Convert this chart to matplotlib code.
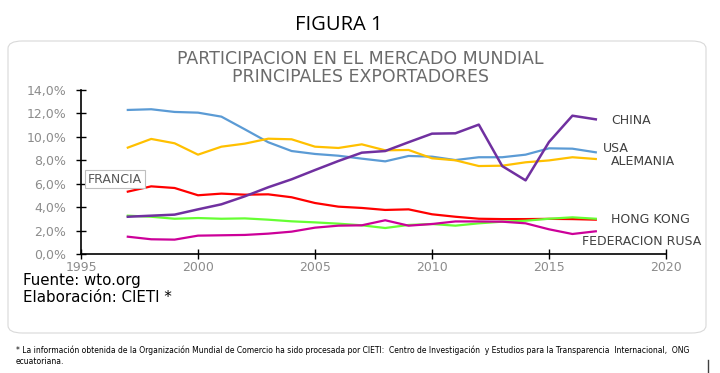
import matplotlib.pyplot as plt
from matplotlib.lines import Line2D
from matplotlib.patches import FancyBboxPatch
from matplotlib.ticker import FuncFormatter

years = list(range(1997, 2018))

china = [3.2, 3.29, 3.38, 3.83, 4.26, 4.94, 5.71, 6.39, 7.18, 7.95, 8.66, 8.8,
         9.55, 10.28, 10.31, 11.05, 7.52, 6.3, 9.57, 11.81, 11.5]
usa = [12.3, 12.36, 12.13, 12.07, 11.73, 10.65, 9.55, 8.8, 8.55, 8.4, 8.15, 7.92,
       8.38, 8.32, 8.03, 8.27, 8.27, 8.49, 9.03, 9.0, 8.69]
alemania = [9.09, 9.83, 9.46, 8.49, 9.17, 9.43, 9.85, 9.8, 9.17, 9.06, 9.37, 8.86,
            8.89, 8.18, 8.01, 7.52, 7.55, 7.84, 8.0, 8.27, 8.12]
francia = [5.34, 5.79, 5.65, 5.03, 5.17, 5.08, 5.11, 4.86, 4.37, 4.06, 3.95, 3.78,
           3.83, 3.41, 3.2, 3.03, 3.0, 3.0, 3.02, 3.0, 2.95]
hong_kong = [3.29, 3.2, 3.03, 3.09, 3.03, 3.06, 2.95, 2.81, 2.72, 2.61, 2.47, 2.24,
             2.5, 2.58, 2.44, 2.64, 2.78, 2.86, 3.03, 3.15, 3.03]
rusia = [1.5, 1.28, 1.25, 1.59, 1.62, 1.65, 1.76, 1.93, 2.27, 2.44, 2.47, 2.9,
         2.44, 2.58, 2.8, 2.8, 2.78, 2.64, 2.13, 1.73, 1.96]

fig = plt.figure(figsize=(7.2, 3.73), dpi=100)
fig.patch.set_facecolor('white')

# rounded frame around the chart (drawn behind the axes)
frame = FancyBboxPatch((8 / 720, 1 - 333 / 373), 698 / 720, 292 / 373,
                       boxstyle='round,pad=0,rounding_size=0.02',
                       transform=fig.transFigure, facecolor='white',
                       edgecolor='#d9d9d9', linewidth=0.8, zorder=-5)
fig.patches.append(frame)

fig.text(339 / 720, 1 - 24.5 / 373, 'FIGURA 1', ha='center', va='center',
         fontsize=14.5, family='Open Sans', color='black')
fig.text(0.5, 1 - 59 / 373, 'PARTICIPACION EN EL MERCADO MUNDIAL',
         ha='center', va='center', fontsize=12.5, family='DejaVu Sans', color='#6b6b6b')
fig.text(0.5, 1 - 76.5 / 373, 'PRINCIPALES EXPORTADORES',
         ha='center', va='center', fontsize=12.5, family='DejaVu Sans', color='#6b6b6b')

ax = fig.add_axes([81 / 720, 1 - 254.3 / 373, 585 / 720, 164.3 / 373])
ax.patch.set_alpha(0)
ax.plot(years, usa, color='#5B9BD5', lw=1.6)
ax.plot(years, alemania, color='#FFC000', lw=1.6)
ax.plot(years, francia, color='#FF0000', lw=1.6)
ax.plot(years, hong_kong, color='#66FF33', lw=1.6)
ax.plot(years, rusia, color='#CC0099', lw=1.6)
ax.plot(years, china, color='#7030A0', lw=1.8)

ax.set_xlim(1995, 2020)
ax.set_ylim(0, 14)
ax.set_xticks(range(1995, 2021, 5))
ax.set_yticks(range(0, 15, 2))
ax.yaxis.set_major_formatter(FuncFormatter(lambda v, p: f'{v:.1f}%'.replace('.', ',')))
for s in ['top', 'right']:
    ax.spines[s].set_visible(False)
for s in ['left', 'bottom']:
    ax.spines[s].set_color('black')
    ax.spines[s].set_linewidth(1.2)
ax.tick_params(direction='inout', length=7, width=1, colors='black',
               labelcolor='#8c8c8c', labelsize=9)
ax.tick_params(axis='x', pad=1)
ax.tick_params(axis='y', pad=7)
for lab in ax.get_xticklabels() + ax.get_yticklabels():
    lab.set_family('DejaVu Sans')

lbl = dict(fontsize=9, family='DejaVu Sans', color='#404040', va='center')
ax.text(2017.65, 11.44, 'CHINA', **lbl)
ax.text(2017.3, 9.0, 'USA', **lbl)
ax.text(2017.65, 7.95, 'ALEMANIA', **lbl)
ax.text(2017.65, 3.0, 'HONG KONG', **lbl)
ax.text(2016.4, 1.07, 'FEDERACION RUSA', **lbl)
ax.text(1995.3, 6.4, 'FRANCIA', fontsize=9, family='DejaVu Sans', color='#595959',
        va='center', bbox=dict(boxstyle='square,pad=0.22', fc='white', ec='#bfbfbf', lw=0.8))

fig.text(23 / 720, 1 - 281 / 373, 'Fuente: wto.org', fontsize=10.8,
         family='DejaVu Sans', va='center')
fig.text(23 / 720, 1 - 297 / 373, 'Elaboración: CIETI *', fontsize=10.8,
         family='DejaVu Sans', va='center')

fig.text(16 / 720, 1 - 350 / 373,
         '* La información obtenida de la Organización Mundial de Comercio ha sido procesada por CIETI:  '
         'Centro de Investigación  y Estudios para la Transparencia  Internacional,  ONG',
         fontsize=6.1, family='DejaVu Sans', stretch='condensed', va='center')
fig.text(16 / 720, 1 - 362 / 373, 'ecuatoriana.', fontsize=6.1,
         family='DejaVu Sans', stretch='condensed', va='center')

# small page-edge mark at the lower right
fig.add_artist(Line2D([708 / 720, 708 / 720], [1 - 360 / 373, 0], color='#404040', lw=1))

fig.savefig('out.png', dpi=100)
